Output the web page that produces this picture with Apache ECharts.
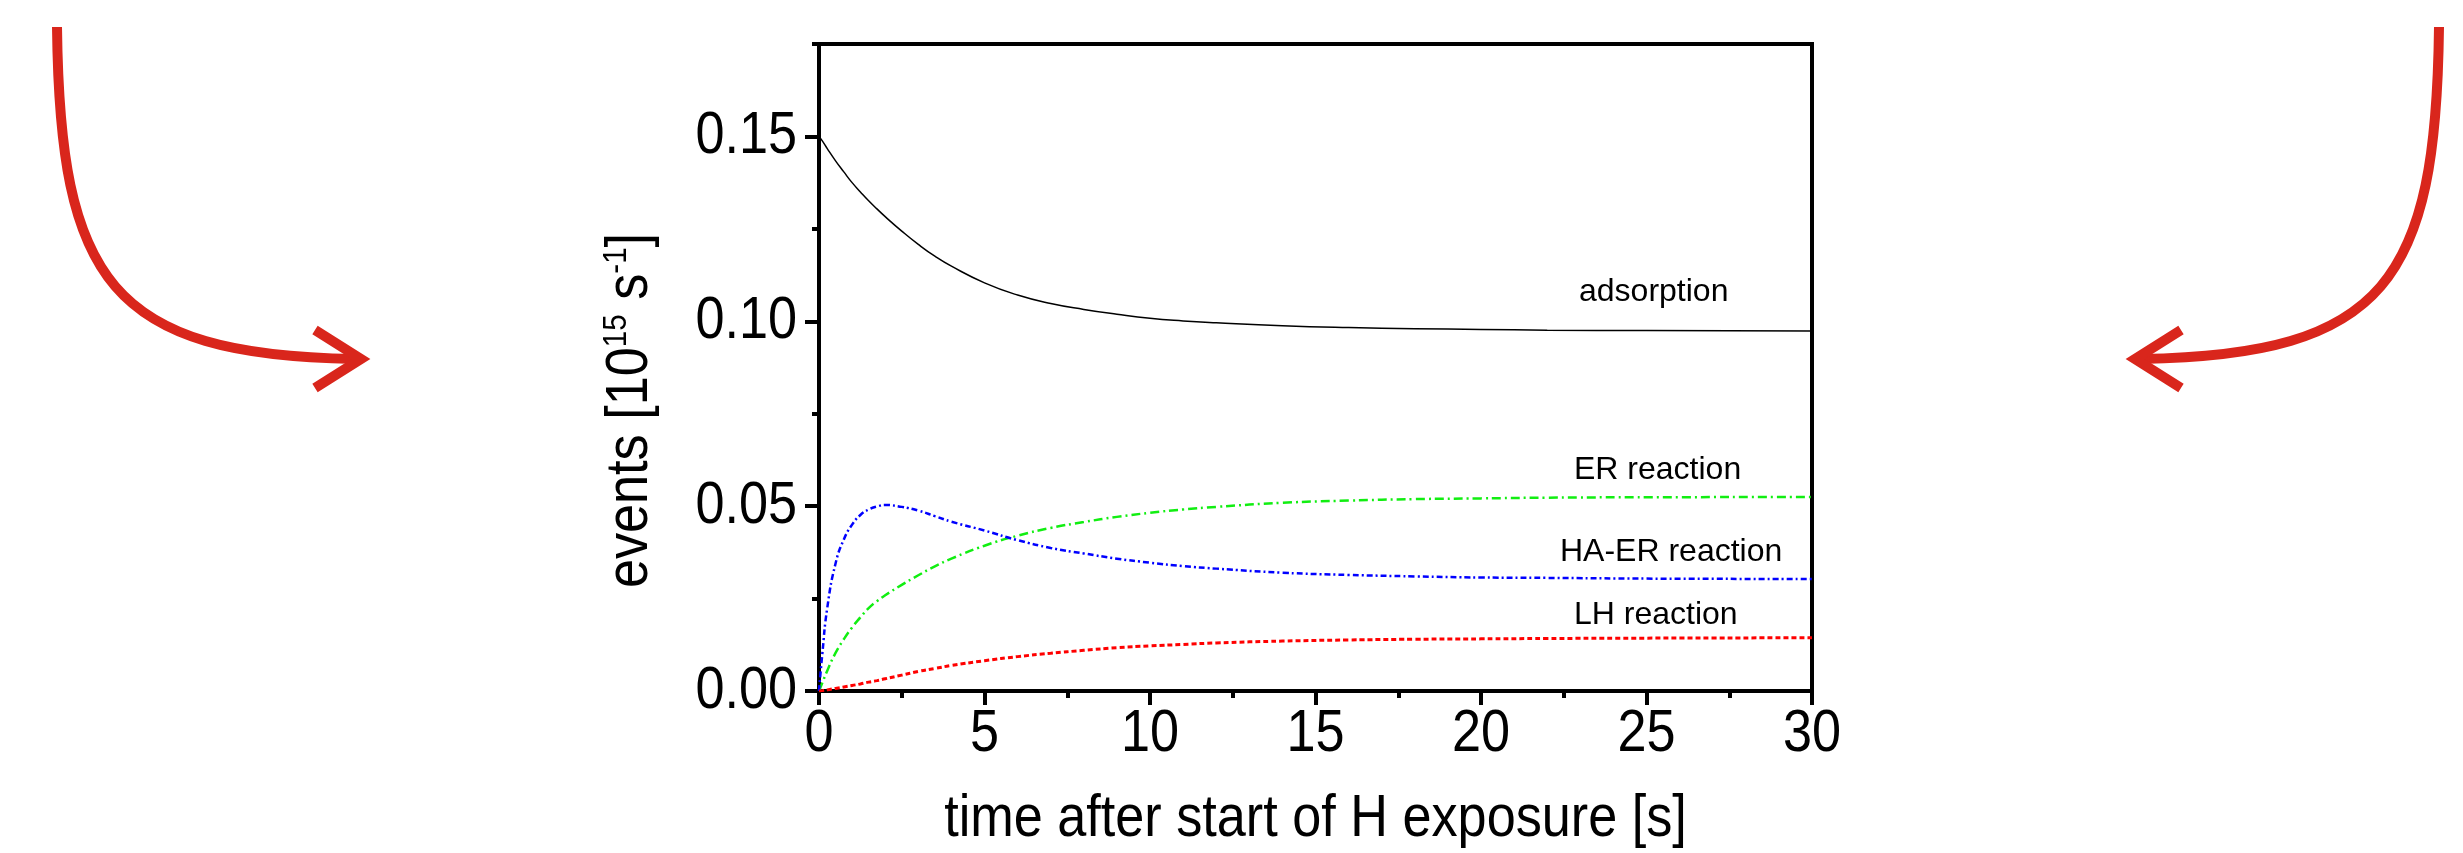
<!DOCTYPE html>
<html>
<head>
<meta charset="utf-8">
<script src="https://cdn.jsdelivr.net/npm/echarts@6/dist/echarts.min.js"></script>
<style>
  html, body { margin: 0; padding: 0; background: #fff; }
  #chart { width: 2463px; height: 853px; }
</style>
</head>
<body>
<div id="chart"></div>
<script>
// time after start of H exposure [s]
const times = [0, 0.1, 0.25, 0.5, 0.75, 1, 1.25, 1.5, 1.75, 2, 2.5, 3, 3.5, 4, 5, 6, 7, 8, 9, 10, 11, 12, 14, 16, 18, 20, 22, 25, 30];

// events [10^15 s^-1]
const adsorption = [0.1500, 0.1488, 0.1467, 0.1434, 0.1404, 0.1375, 0.1350, 0.1326, 0.1304, 0.1283, 0.1244, 0.1208, 0.1176, 0.1149, 0.1104, 0.1071, 0.1048, 0.1032, 0.1019, 0.1008, 0.1001, 0.0996, 0.0988, 0.0983, 0.0980, 0.0978, 0.0976, 0.0975, 0.0974];
const erReaction = [0, 0.0022, 0.0055, 0.0103, 0.0140, 0.0172, 0.0199, 0.0224, 0.0243, 0.0259, 0.0287, 0.0313, 0.0337, 0.0358, 0.0393, 0.0420, 0.0441, 0.0457, 0.0471, 0.0482, 0.0491, 0.0498, 0.0509, 0.0515, 0.0519, 0.0521, 0.0523, 0.0524, 0.0525];
const haErReaction = [0, 0.0100, 0.0225, 0.0345, 0.0410, 0.0450, 0.0476, 0.0491, 0.0499, 0.0503, 0.0498, 0.0488, 0.0473, 0.0458, 0.0434, 0.0408, 0.0387, 0.0372, 0.0358, 0.0347, 0.0338, 0.0331, 0.0320, 0.0314, 0.0310, 0.0307, 0.0306, 0.0304, 0.0303];
const lhReaction = [0, 0.0001, 0.0003, 0.0007, 0.0011, 0.0015, 0.0019, 0.0024, 0.0028, 0.0033, 0.0043, 0.0053, 0.0061, 0.0069, 0.0082, 0.0093, 0.0102, 0.0110, 0.0117, 0.0122, 0.0126, 0.0130, 0.0135, 0.0138, 0.0140, 0.0141, 0.0142, 0.0143, 0.0144];

const xTicks = [0, 5, 10, 15, 20, 25, 30];
const yMajorTicks = [0, 0.05, 0.10, 0.15];
const yMinorTicks = [0.025, 0.075, 0.125, 0.175];
const curveLabels = ['adsorption', 'ER reaction', 'HA-ER reaction', 'LH reaction'];
const xTitle = 'time after start of H exposure [s]';

const sans = "'Liberation Sans', Arial, sans-serif";
const arrowRed = '#d9261c';
// the original uses a condensed face; squeeze regular Arial-like glyphs instead
const squeeze = 0.87;

function pairs(vals) {
  return times.map((t, i) => [t, vals[i]]);
}

const chart = echarts.init(document.getElementById('chart'));

chart.setOption({
  animation: false,
  backgroundColor: '#fff',
  grid: {
    left: 819, right: 651, top: 44, bottom: 162,
    show: true, borderColor: '#000', borderWidth: 4, backgroundColor: 'transparent'
  },
  xAxis: {
    type: 'value',
    min: 0, max: 30, interval: 5,
    axisLine: { lineStyle: { color: '#000', width: 4 } },
    axisTick: { length: 14, lineStyle: { color: '#000', width: 4 } },
    minorTick: { show: true, splitNumber: 2, length: 7, lineStyle: { color: '#000', width: 4 } },
    splitLine: { show: false },
    axisLabel: { show: false }
  },
  yAxis: [
    {
      type: 'value',
      min: 0, max: 0.175,
      axisLine: { lineStyle: { color: '#000', width: 4 } },
      axisTick: { length: 14, customValues: yMajorTicks, lineStyle: { color: '#000', width: 4 } },
      splitLine: { show: false },
      axisLabel: { show: false }
    },
    {
      type: 'value',
      min: 0, max: 0.175,
      position: 'left',
      axisLine: { show: false },
      axisTick: { show: true, length: 7, customValues: yMinorTicks, lineStyle: { color: '#000', width: 4 } },
      axisLabel: { show: false },
      splitLine: { show: false }
    }
  ],
  series: [
    {
      name: curveLabels[0], type: 'line', data: pairs(adsorption),
      showSymbol: false, smooth: 0.5,
      lineStyle: { color: '#000', width: 1.5 }
    },
    {
      name: curveLabels[1], type: 'line', data: pairs(erReaction),
      showSymbol: false, smooth: 0.5,
      lineStyle: { color: '#11ee11', width: 2.5, type: [9, 4, 2, 4] }
    },
    {
      name: curveLabels[2], type: 'line', data: pairs(haErReaction),
      showSymbol: false, smooth: 0.5,
      lineStyle: { color: '#0000ff', width: 2.5, type: [6, 3, 2, 3] }
    },
    {
      name: curveLabels[3], type: 'line', data: pairs(lhReaction),
      showSymbol: false, smooth: 0.5,
      lineStyle: { color: '#ff0000', width: 3, type: [5, 3] }
    }
  ]
});

// tick labels and axis titles, placed through the chart's own scales
const toPx = (x, y) => chart.convertToPixel({ gridIndex: 0 }, [x, y]);
const origin = toPx(0, 0);
const far = toPx(30, 0.175);
const graphics = [];

xTicks.forEach(v => {
  const p = toPx(v, 0);
  graphics.push({
    type: 'text', x: p[0], y: origin[1] + 13, scaleX: squeeze,
    style: { text: String(v), font: '60px ' + sans, fill: '#000', align: 'center', verticalAlign: 'top' }
  });
});
yMajorTicks.forEach(v => {
  const p = toPx(0, v);
  graphics.push({
    type: 'text', x: origin[0] - 22, y: p[1], scaleX: squeeze,
    style: { text: v.toFixed(2), font: '60px ' + sans, fill: '#000', align: 'right', verticalAlign: 'middle' }
  });
});
graphics.push({
  type: 'text', x: (origin[0] + far[0]) / 2, y: origin[1] + 98, scaleX: squeeze,
  style: { text: xTitle, font: '60px ' + sans, fill: '#000', align: 'center', verticalAlign: 'top' }
});
graphics.push({
  type: 'text', x: 630, y: (origin[1] + far[1]) / 2 + 43, rotation: Math.PI / 2, scaleX: squeeze,
  style: {
    text: '{b|events [10}{s|15}{b| s}{s|-1}{b|]}',
    align: 'center', verticalAlign: 'middle',
    rich: {
      b: { font: '60px ' + sans, fill: '#000', lineHeight: 60 },
      s: { font: '34px ' + sans, fill: '#000', lineHeight: 34, verticalAlign: 'top' }
    }
  }
});

// curve captions
const captionPos = [[1579, 276], [1574, 454], [1560, 536], [1574, 599]];
curveLabels.forEach((txt, i) => {
  graphics.push({
    type: 'text', x: captionPos[i][0], y: captionPos[i][1],
    style: { text: txt, font: '32px ' + sans, fill: '#000' }
  });
});

// decorative arrows on both sides
graphics.push(
  {
    type: 'bezierCurve',
    shape: { x1: 57, y1: 27, cpx1: 60, cpy1: 280, cpx2: 110, cpy2: 355, x2: 355, y2: 359 },
    style: { stroke: arrowRed, lineWidth: 10, fill: null }
  },
  {
    type: 'polyline',
    shape: { points: [[315, 330], [361, 359], [315, 388]] },
    style: { stroke: arrowRed, lineWidth: 10, fill: null }
  },
  {
    type: 'bezierCurve',
    shape: { x1: 2439, y1: 27, cpx1: 2436, cpy1: 280, cpx2: 2386, cpy2: 355, x2: 2141, y2: 359 },
    style: { stroke: arrowRed, lineWidth: 10, fill: null }
  },
  {
    type: 'polyline',
    shape: { points: [[2181, 330], [2135, 359], [2181, 388]] },
    style: { stroke: arrowRed, lineWidth: 10, fill: null }
  }
);

chart.setOption({ graphic: graphics });
</script>
</body>
</html>
